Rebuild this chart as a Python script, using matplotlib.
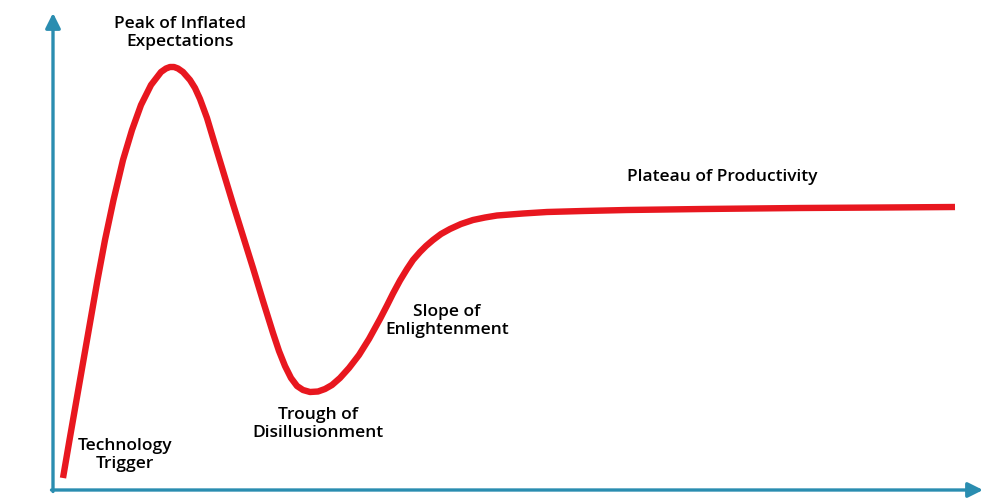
import matplotlib
matplotlib.use("Agg")
import matplotlib.pyplot as plt
import numpy as np

# hype cycle curve (time -> visibility, in pixel-ish units)
time = [10, 16.5, 23.5, 30.5, 37.5, 44.5, 52, 60.5, 70, 79, 88, 98, 108, 113, 117,
        121, 125, 130, 137, 142, 147, 154, 160, 170, 180, 190, 200, 210, 220, 226, 232,
        238, 244, 250, 257, 265, 272, 279, 287, 296, 306, 316, 327, 334, 340, 347,
        354, 360, 367, 373, 380, 388, 397, 408, 420, 432, 444, 470, 494, 530, 574,
        650, 747, 830, 902]
visibility = [12, 50, 90, 130, 170, 210, 250, 290, 330, 360, 385, 405, 418, 421.5, 423,
              423, 421.5, 418, 410, 402, 391, 372, 352, 319, 286, 254, 222, 189, 157, 139, 124,
              112, 104, 100, 98, 98.5, 101, 105, 112, 122, 135, 151, 171, 184.5, 196.5, 209.5,
              221, 230, 238, 244, 250, 256, 261, 266, 270, 272.5, 274.5, 276.5, 278, 279, 280,
              281, 282, 282.5, 283]

# phase labels and where they sit
labels = ["Peak of Inflated\nExpectations", "Technology\nTrigger", "Trough of\nDisillusionment",
          "Slope of\nEnlightenment", "Plateau of Productivity"]
label_x = [127, 72, 265, 394, 669]
label_y = [457, 35, 66, 169, 313]

red = "#e8171f"
teal = "#2a8db0"

fig = plt.figure(figsize=(10, 5), dpi=100)
ax = fig.add_axes([0, 0, 1, 1])
ax.set_xlim(-53, 947)
ax.set_ylim(-10, 490)
ax.axis("off")

# axes with arrow heads
ax.annotate("", xy=(0, 477), xytext=(0, -1.5),
            arrowprops=dict(arrowstyle="-|>,head_length=0.9,head_width=0.45",
                            color=teal, lw=2.4, shrinkA=0, shrinkB=0))
ax.annotate("", xy=(930, 0), xytext=(-1.5, 0),
            arrowprops=dict(arrowstyle="-|>,head_length=0.9,head_width=0.45",
                            color=teal, lw=2.4, shrinkA=0, shrinkB=0))

ax.plot(time, visibility, color=red, lw=4.6, solid_joinstyle="round",
        solid_capstyle="butt")

for txt, x, y in zip(labels, label_x, label_y):
    ax.text(x, y, txt, ha="center", va="center", fontsize=12.5,
            family="Open Sans", weight="semibold", color="#000000",
            linespacing=1.2)

fig.savefig("out.png", dpi=100)
